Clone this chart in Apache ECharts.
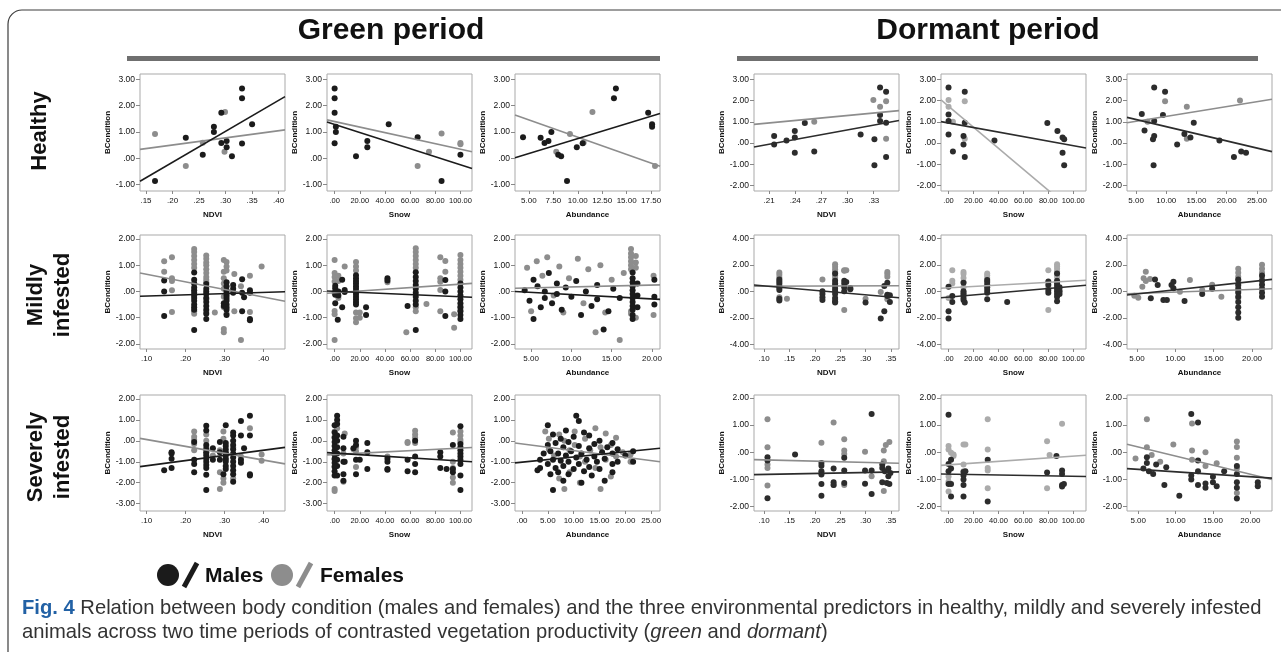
<!DOCTYPE html>
<html>
<head>
<meta charset="utf-8">
<script src="https://cdn.jsdelivr.net/npm/echarts@6/dist/echarts.min.js"></script>
<style>
  html, body { margin: 0; background: #fff; }
  #chart { width: 1281px; height: 652px; }
</style>
</head>
<body>
<div id="chart"></div>
<script>
  // ---- data: each row is [x, y1, y2, ...] (points sharing one x value) ----
  // Green period, healthy
  const gHealthyNdviMales = [[0.167, -0.86], [0.225, 0.78], [0.257, 0.14], [0.278, 1.2, 1.0], [0.292, 1.73, 0.58], [0.302, 0.66, 0.42], [0.312, 0.08], [0.331, 2.65, 2.28, 0.56], [0.35, 1.29]]
  const gHealthyNdviFemales = [[0.167, 0.92], [0.225, -0.29], [0.257, 0.59], [0.299, 1.76], [0.298, 0.25]]
  const gHealthySnowMales = [[0, 2.65, 2.28, 1.73, 0.57], [1, 1.2, 1.0], [17, 0.08], [26, 0.66, 0.42], [43, 1.29], [66, 0.8], [85, -0.86], [100, 0.14]]
  const gHealthySnowFemales = [[66, -0.29], [75, 0.25], [85, 0.94], [100, 0.58, 0.53]]
  const gHealthyAbunMales = [[4.4, 0.8], [6.2, 0.78], [6.6, 0.58], [7.0, 0.66], [7.3, 1.0], [8.0, 0.14], [8.3, 0.08], [8.9, -0.86], [9.9, 0.42], [10.5, 0.57], [13.7, 2.28], [13.9, 2.65], [17.2, 1.73], [17.6, 1.29, 1.2]]
  const gHealthyAbunFemales = [[7.8, 0.25], [9.2, 0.92], [10.6, 0.59], [11.5, 1.76], [17.9, -0.29]]

  // Dormant period, healthy
  const dHealthyNdviMales = [[0.2158, 0.34, -0.06], [0.23, 0.12], [0.2395, 0.57, 0.26, -0.45], [0.251, 0.95], [0.2618, -0.39], [0.315, 0.41], [0.3308, 0.18, -1.04], [0.3373, 2.61, 1.32, 1.04], [0.3442, 2.42, 0.96, -0.65]]
  const dHealthyNdviFemales = [[0.2618, 1.01], [0.3296, 2.03], [0.3373, 1.71], [0.3442, 1.97, 0.21]]
  const dHealthySnowMales = [[0, 2.61, 1.35, 1.04, 0.41], [3.5, -0.39], [12, 0.34, -0.06], [13, 2.42, 0.96, -0.65], [36.8, 0.12], [79.2, 0.95], [87.3, 0.57], [91.4, 0.26, -0.45], [92.7, 0.18, -1.04]]
  const dHealthySnowFemales = [[0, 2.03, 1.71], [3.5, 1.01], [13, 1.97, 0.21]]
  const dHealthyAbunMales = [[5.95, 1.37], [6.4, 0.59], [7.8, 0.18], [7.9, -1.04], [8.0, 2.61, 1.04, 0.34], [9.45, 1.32], [9.8, 2.42], [11.8, -0.06], [13.0, 0.43], [14.0, 0.27], [14.55, 0.96], [18.8, 0.12], [21.2, -0.65], [22.4, -0.39], [23.2, -0.45]]
  const dHealthyAbunFemales = [[6.9, 1.01], [9.8, 1.97], [13.4, 1.71, 0.21], [22.2, 2.0]]

  // Green period, mildly infested
  const gMildNdviMales = [[0.145, 0.42, 0.0, -0.93], [0.222, 0.72, 0.45, 0.3, 0.15, 0.05, -0.05, -0.15, -0.25, -0.35, -0.5, -0.6, -0.7, -1.47], [0.253, 0.28, 0.1, 0.0, -0.1, -0.25, -0.4, -0.55, -0.7, -0.85, -1.05], [0.298, -0.45, -0.55], [0.305, 0.35, 0.2, 0.05, -0.05, -0.15, -0.25, -0.35, -0.5, -0.6, -0.7, -0.9], [0.322, 0.25, 0.1, -0.05], [0.345, 0.47, -0.05, -0.75], [0.35, -0.22], [0.365, 0.05, -0.05, -1.05, -1.1]]
  const gMildNdviFemales = [[0.145, 1.15, 0.75], [0.165, 1.3, 0.5, 0.4, 0.05, -0.78], [0.222, 1.62, 1.5, 1.35, 1.2, 1.05, 0.9, -0.75, -0.85], [0.253, 1.37, 1.25, 1.1, 1.0, 0.85, 0.7, 0.55, 0.45, 0.35, -0.3, -0.78], [0.275, -0.8], [0.298, 1.2, 0.75, 0.5, 0.3, 0.1, -0.2, -0.6, -1.43, -1.55], [0.305, 1.12, 0.95, 0.8, -0.85], [0.325, 0.67, -0.75], [0.342, 0.2, -1.85], [0.365, 0.6, -0.78], [0.395, 0.95]]
  const gMildSnowMales = [[0.5, 0.22, 0.12, 0.0, -0.12, -0.45], [2.5, -1.08], [3, 0.0, -0.15], [6, 0.45, -0.6], [8, 0.06, -0.02], [17, 0.62, 0.5, 0.4, 0.3, 0.2, 0.1, 0.0, -0.1, -0.2, -0.3, -0.4, -0.5], [25, -0.6, -0.9], [42, 0.5, 0.42], [58, -0.55], [64.5, 0.73, 0.55, 0.4, 0.25, 0.1, -0.05, -0.2, -0.35, -0.5, -1.47], [88, 0.44, 0.0, -0.93], [100, 0.3, 0.15, 0.0, -0.15, -0.3, -0.45, -0.6, -0.75, -0.9, -1.05]]
  const gMildSnowFemales = [[0, 1.2, 0.7, 0.55, 0.38, -0.07, -0.74, -0.87, -1.85], [3, 0.6, 0.4, -0.25], [8, 0.95], [17, 1.12, 0.95, 0.8, -0.8, -1.02, -1.17], [20, -0.8, -1.0], [42, 0.35], [57, -1.55], [64.5, 1.65, 1.5, 1.35, 1.2, 1.05, 0.9, -0.6, -0.75], [73, -0.48], [84, 1.3, 0.5, 0.37, 0.06, -0.75], [88, 1.16, 0.75], [95, -0.87, -1.38], [100, 1.39, 1.2, 1.05, 0.9, 0.75, 0.6, 0.45, -0.55, -0.7]]
  const gMildAbunMales = [[4.2, 0.05], [4.8, -0.35], [5.3, 0.45, -1.05], [5.8, 0.2], [6.2, -0.6], [6.7, 0.0, -0.25], [7.2, 0.7], [7.6, -0.45], [8.2, 0.3, -0.1], [8.8, -0.7], [9.3, 0.15], [10.0, -0.2], [10.6, 0.4], [11.2, -0.9], [11.8, 0.0], [12.5, -0.55], [13.2, 0.25, -0.3], [14.0, -1.45], [14.6, -0.75], [15.2, 0.1], [16.0, -0.25], [17.6, 0.72, 0.5, 0.35, 0.2, 0.05, -0.1, -0.25, -0.4, -0.55, -0.7, -0.9, -1.05], [18.2, 0.3, -0.15, -0.6], [20.3, 0.45, -0.2, -0.5]]
  const gMildAbunFemales = [[4.5, 0.9], [5.0, -0.75], [5.7, 1.15], [6.4, 0.6], [7.0, 1.3], [7.8, -0.15], [8.5, 0.95], [9.0, -0.8], [9.7, 0.5], [10.8, 1.25], [11.5, -0.45], [12.1, 0.85], [13.0, -1.55], [13.6, 1.0], [14.2, -0.8], [15.0, 0.45], [16.0, -1.85], [16.5, 0.7], [17.4, 1.62, 1.45, 1.3, 1.15, 1.0, 0.85, -0.75, -0.85], [18.0, 1.35, 1.1, 0.9, -1.0], [20.2, 0.6, -0.9]]

  // Dormant period, mildly infested
  const dMildNdviMales = [[0.13, 0.9, 0.75, 0.6, 0.4, 0.25, 0.1, -0.55, -0.7], [0.215, 0.0, -0.2, -0.45, -0.65], [0.24, 1.35, 0.8, 0.6, 0.4, 0.2, 0.0, -0.2, -0.5, -0.75, -0.85], [0.258, 0.8, 0.6, 0.3, 0.0], [0.262, 0.7], [0.27, 0.25, 0.15], [0.3, -0.85], [0.33, -2.05], [0.337, 0.4, -1.5], [0.343, 0.65, -0.25, -0.35], [0.348, -0.8, -0.3]]
  const dMildNdviFemales = [[0.13, 1.43, 1.25, 1.05, -0.45], [0.145, -0.55], [0.215, 0.9], [0.24, 2.05, 1.85, 1.65, 1.45, 1.2, 1.0, -0.6], [0.258, 1.6, 1.55, -1.4], [0.262, 1.6], [0.3, -0.55], [0.33, -0.05], [0.343, 1.45, 1.3, 1.1, -0.6]]
  const dMildSnowMales = [[0, 0.35, -1.5, -2.05], [3, -0.35, -0.8], [12, 0.65, 0.0, -0.15, -0.3, -0.5, -0.65], [13, -0.85], [31, 0.85, 0.7, 0.5, 0.3, 0.1, -0.1, -0.6], [47, -0.8], [80, 0.75, 0.5, 0.1, -0.1], [87, 1.35, 0.8, 0.6, 0.4, 0.2, 0.0, -0.2, -0.4, -0.75], [89, 0.3, 0.0, -0.2]]
  const dMildSnowFemales = [[0, -0.5], [3, 1.6, 0.8, 0.6], [12, 1.45, 1.3, 1.0, 0.7, 0.3], [31, 1.35, 1.2, 1.0], [80, 1.6, 0.3, -1.4], [87, 2.05, 1.9, 1.7, 1.5, 1.3, 1.1], [89, 0.15]]
  const dMildAbunMales = [[6.8, -0.53], [7.35, 0.9], [7.7, 0.48], [8.44, -0.65], [8.9, -0.65], [9.5, 0.48], [9.75, 0.73, 0.23], [11.2, -0.73], [13.5, -0.2], [14.8, 0.2], [18.2, 0.9, 0.5, 0.2, -0.1, -0.4, -0.8, -1.2, -1.6, -2.0], [21.3, 1.2, 0.8, 0.5, 0.2, -0.1, -0.4]]
  const dMildAbunFemales = [[4.65, -0.33], [5.17, -0.48], [5.7, 0.35], [5.87, 0.98], [6.15, 1.48, 0.78], [6.7, 0.93], [10.6, -0.03], [11.9, 0.85], [13.5, 0.1], [14.8, 0.5], [16, -0.4], [18.2, 1.7, 1.4, 1.1, 0.8, 0.4, 0.0, -0.5], [21.3, 2.0, 1.7, 1.4, 1.0]]

  // Green period, severely infested
  const gSevNdviMales = [[0.145, -1.4], [0.164, -0.55, -0.6, -0.85, -1.3], [0.222, -0.05, -0.9, -1.1, -1.5], [0.253, 0.72, 0.5, -0.2, -0.4, -0.55, -0.7, -0.85, -1.0, -1.15, -1.3, -1.62, -2.35], [0.27, -0.35, -0.9], [0.288, -0.05, -0.55, -0.9], [0.297, -1.6], [0.303, 0.75, -0.1, -0.25, -0.4, -0.55, -0.7, -0.85, -1.0, -1.2, -1.35], [0.322, 0.4, 0.25, 0.0, -0.2, -0.4, -0.6, -0.8, -1.0, -1.2, -1.4, -1.6, -1.95], [0.342, 0.95, 0.25, -0.9, -1.05], [0.35, -0.35], [0.365, 1.2, 0.25, -1.6, -1.65]]
  const gSevNdviFemales = [[0.222, 0.45, 0.2, 0.05, -0.15, -0.45], [0.253, 0.3, 0.0, -0.3, -0.6], [0.27, -0.7], [0.288, -0.45, -1.5, -2.3], [0.297, 0.45, 0.1, -1.8, -2.0], [0.303, -0.6, -0.9], [0.322, -0.3, -1.8], [0.342, -0.75], [0.365, 0.6], [0.395, -0.65, -0.95]]
  const gSevSnowMales = [[0, 0.75, 0.4, 0.15, -0.05, -0.25, -0.45, -0.65, -0.85, -1.05, -1.25, -1.45, -1.65], [2, 1.2, 1.0, 0.8, 0.25, 0.0, -0.3, -0.6, -0.9, -1.2, -1.65], [7, 0.2, -0.35, -1.0, -1.6, -1.9], [8, -1.0], [15, -0.35], [17, 0.0, -0.2, -0.9, -1.6], [20, -0.9], [26, -0.1, -0.55, -1.35], [42, -0.85, -1.0, -1.35, -1.38], [58, -0.9, -1.45], [64, 0.0, -0.75, -1.1, -1.5], [84, -0.55, -0.75, -1.3], [89, -1.35], [94, -0.2, -1.35, -1.5], [100, 0.7, -0.15, -0.3, -0.45, -0.6, -0.75, -0.9, -1.1, -1.65, -2.35]]
  const gSevSnowFemales = [[0, 0.45, 0.2, -0.65, -0.9, -1.2, -2.3, -2.4], [2, 0.6], [7, -0.6, -1.95], [8, 0.35], [15, -0.4], [17, -0.3, -0.5, -1.25], [42, -0.75], [58, -0.05, -0.1], [64, 0.48, 0.3, 0.15, -0.1], [94, 0.4, -1.0, -1.3, -1.75, -2.0], [100, 0.45, 0.25, 0.05, -0.05]]
  const gSevAbunMales = [[3.0, -1.4], [3.5, -0.9, -1.3], [4.2, -0.6], [5.0, 0.75, -0.2, -1.1], [5.5, -0.5, -1.6], [6.0, 0.3, -0.9, -2.35], [6.5, -0.1, -1.3], [7.0, -0.6, -1.5], [7.5, 0.1, -0.95], [8.0, -0.3, -1.2, -1.9], [8.5, 0.5, -0.7], [9.0, -0.05, -1.0, -1.6], [9.5, -0.5], [10.0, 0.2, -1.35], [10.5, 1.2, -0.8], [11.0, 0.95, -0.25, -1.1], [11.5, -0.6, -2.0], [12.0, 0.4, -1.45], [12.5, -0.9], [13.0, 0.25, -0.35, -1.25], [13.5, -1.65], [14.0, -0.15, -0.75], [14.5, -1.0], [15.0, 0.0, -1.35], [15.5, -0.55], [16.0, -0.85, -1.9], [16.5, -0.3], [17.5, -0.1, -0.6, -1.1, -1.5], [18.5, -0.4, -1.0], [20.0, -0.7], [21.5, -0.5, -1.0]]
  const gSevAbunFemales = [[4.5, 0.45], [5.2, 0.1, -0.4], [6.2, -0.7], [7.2, 0.3, -1.8], [8.2, 0.0, -2.3], [9.2, -0.45, -1.5], [10.2, 0.45, -0.2], [11.2, -0.75, -2.0], [12.2, 0.1, -1.0], [13.2, -0.45], [14.2, 0.6, -1.3], [15.2, -0.3, -2.3], [16.2, 0.35, -0.9], [17.2, -0.2, -1.7], [18.2, 0.15, -0.75], [19.5, -0.55], [21.0, -0.65, -1.0]]

  // Dormant period, severely infested
  const dSevNdviMales = [[0.1066, -0.18, -0.3, -1.69], [0.161, -0.08], [0.213, -0.39, -0.49, -0.7, -0.82, -1.17, -1.6], [0.237, -0.6, -1.1, -1.2], [0.258, -0.2, -0.67, -1.13], [0.299, -0.67, -1.16], [0.312, 1.41, -0.67, -1.53], [0.333, -0.45, -0.58, -1.1], [0.338, -0.7], [0.342, -1.13], [0.345, -0.6, -0.88], [0.347, -1.17], [0.349, -0.76]]
  const dSevNdviFemales = [[0.1066, 1.22, 0.19, -0.45, -0.58, -1.22], [0.213, 0.35, -0.76], [0.237, 1.1, -1.2], [0.258, 0.48, 0.07, -0.06, -1.2], [0.299, 0.02], [0.312, -0.88], [0.336, 0.07, -0.33, -1.42], [0.34, 0.27], [0.347, 0.38]]
  const dSevSnowMales = [[0, 1.38, -0.43, -0.7, -1.17], [2, -0.27, -0.6, -1.17, -1.63], [12, -0.72, -0.85, -1.0, -1.2, -1.63], [13.5, -0.7], [31.4, -0.27, -1.81], [79, -0.74], [86.5, -0.14], [91, -0.67, -0.8, -1.2, -1.26], [92.5, -1.17]]
  const dSevSnowFemales = [[0, 0.23, 0.1, -0.89, -1.07, -1.44], [2, -0.02], [4, -0.14, -0.08], [12, 0.29, -0.45, -0.7], [13.5, 0.29], [31.4, 1.22, 0.1, -0.58, -0.67, -1.32], [79, 0.41, -1.32], [81, -0.1], [91, 1.05]]
  const dSevAbunMales = [[5.7, -0.6], [6.16, -0.18, -0.39], [6.43, -0.7], [7.0, -0.8], [7.4, -0.45], [8.5, -1.2], [8.75, -0.55], [10.5, -1.6], [12.1, 1.41, -0.85, -1.0], [13, 1.1, -0.3, -0.7, -1.2], [14, -1.15, -1.3], [15, -0.9, -1.1], [15.5, -1.25], [16.5, -0.7], [18.2, -0.5, -0.8, -1.1, -1.3, -1.7], [21, -1.1, -1.25]]
  const dSevAbunFemales = [[4.64, -0.23], [6.16, 1.22, 0.19], [6.8, -0.1], [7.94, -0.35], [9.7, 0.29], [12.2, 1.06, 0.07, -0.27], [14, -0.5, 0.0], [15.5, -0.4], [18.2, 0.4, 0.2, -0.2, -0.6, -1.5], [21, -1.2]]

  // fitted lines: BCondition at the left and right edge of each panel
  const fitMales = [[-0.87, 2.34], [1.38, -0.39], [0.02, 1.7], [-0.18, 1.06], [1.01, -0.23], [1.21, -0.4],
    [-0.18, -0.01], [0.02, -0.22], [0.0, -0.3], [0.48, -0.48], [-0.48, 0.46], [-0.28, 0.9],
    [-1.23, -0.31], [-0.56, -1.0], [-1.05, -0.35], [-0.82, -0.72], [-0.8, -0.89], [-0.6, -0.95]]
  const fitFemales = [[0.34, 1.08], [1.46, 0.25], [1.64, -0.3], [0.88, 1.53], [2.03, -3.71], [0.96, 2.06],
    [0.7, -0.37], [-0.07, 0.31], [0.12, 0.25], [0.38, 0.42], [0.23, 0.84], [-0.18, 0.2],
    [0.12, -1.1], [-0.67, -0.32], [-0.1, -1.0], [-0.27, -0.4], [-0.48, -0.11], [0.3, -1.0]]

  // axes
  const xRanges = [[0.1387, 0.412], [-6.05, 109.2], [3.58, 18.41], [0.1927, 0.359], [-6.05, 110.2], [3.5, 27.5],
    [0.083, 0.455], [-6.05, 109.2], [3.0, 21.0], [0.08, 0.366], [-6.05, 110.2], [3.7, 22.6],
    [0.083, 0.455], [-6.05, 109.2], [-1.35, 26.7], [0.08, 0.366], [-6.05, 110.2], [3.5, 22.9]]
  const ndviTicksHealthyG = [0.15, 0.2, 0.25, 0.3, 0.35, 0.4]
  const ndviTicksHealthyD = [0.21, 0.24, 0.27, 0.3, 0.33]
  const ndviTicksG = [0.1, 0.2, 0.3, 0.4]
  const ndviTicksD = [0.1, 0.15, 0.2, 0.25, 0.3, 0.35]
  const snowTicks = [0, 20, 40, 60, 80, 100]
  const abunTicksHealthyG = [5, 7.5, 10, 12.5, 15, 17.5]
  const abunTicks25 = [5, 10, 15, 20, 25]
  const abunTicks20 = [5, 10, 15, 20]
  const abunTicksSevG = [0, 5, 10, 15, 20, 25]
  const yRangesGreen = [[-1.24, 3.2], [-2.19, 2.15], [-3.35, 2.19]]
  const yRangesDormant = [[-2.25, 3.25], [-4.35, 4.25], [-2.16, 2.11]]
  const yTicksGreen = [[-1, 0, 1, 2, 3], [-2, -1, 0, 1, 2], [-3, -2, -1, 0, 1, 2]]
  const yTicksDormant = [[-2, -1, 0, 1, 2, 3], [-4, -2, 0, 2, 4], [-2, -1, 0, 1, 2]]
  const xNames = ['NDVI', 'Snow', 'Abundance']
  const rowNames = [['Healthy'], ['Mildly', 'infested'], ['Severely', 'infested']]

  const panelMales = [gHealthyNdviMales, gHealthySnowMales, gHealthyAbunMales, dHealthyNdviMales, dHealthySnowMales, dHealthyAbunMales,
    gMildNdviMales, gMildSnowMales, gMildAbunMales, dMildNdviMales, dMildSnowMales, dMildAbunMales,
    gSevNdviMales, gSevSnowMales, gSevAbunMales, dSevNdviMales, dSevSnowMales, dSevAbunMales]
  const panelFemales = [gHealthyNdviFemales, gHealthySnowFemales, gHealthyAbunFemales, dHealthyNdviFemales, dHealthySnowFemales, dHealthyAbunFemales,
    gMildNdviFemales, gMildSnowFemales, gMildAbunFemales, dMildNdviFemales, dMildSnowFemales, dMildAbunFemales,
    gSevNdviFemales, gSevSnowFemales, gSevAbunFemales, dSevNdviFemales, dSevSnowFemales, dSevAbunFemales]
  const panelXTicks = [ndviTicksHealthyG, snowTicks, abunTicksHealthyG, ndviTicksHealthyD, snowTicks, abunTicks25,
    ndviTicksG, snowTicks, abunTicks20, ndviTicksD, snowTicks, abunTicks20,
    ndviTicksG, snowTicks, abunTicksSevG, ndviTicksD, snowTicks, abunTicks20]

  // ---- layout ----
  const colLeft = [140, 327, 515, 754, 941, 1127]
  const rowTop = [74, 235, 395]
  const rowHeight = [117, 114, 116]
  const panelW = 145
  const FONT = "'Liberation Sans', Arial, sans-serif"

  function expand(rows) {
    const out = []
    rows.forEach((r) => r.slice(1).forEach((y) => out.push([r[0], y])))
    return out
  }

  function fmt(v) {
    let s = Math.abs(v).toFixed(2)
    if (s[0] === '0') s = s.slice(1)
    return (v < 0 ? '-' : '') + s
  }

  const grids = []
  const xAxes = []
  const yAxes = []
  const series = []

  for (let i = 0; i < 18; i++) {
    const row = Math.floor(i / 6)
    const col = i % 6
    const dormant = col >= 3
    const yr = dormant ? yRangesDormant[row] : yRangesGreen[row]
    const yt = dormant ? yTicksDormant[row] : yTicksGreen[row]
    const xr = xRanges[i]
    const maleColor = dormant ? '#2c2c2c' : '#1b1b1b'
    const femaleColor = dormant && col === 4 ? '#ababab' : '#8d8d8d'
    const isSnow = col % 3 === 1

    grids.push({
      left: colLeft[col], top: rowTop[row], width: panelW, height: rowHeight[row],
      show: true, borderColor: '#a9a9a9', borderWidth: 1,
    })
    xAxes.push({
      gridIndex: i, type: 'value', min: xr[0], max: xr[1],
      name: xNames[col % 3], nameLocation: 'middle', nameGap: 20,
      nameTextStyle: { fontSize: 8, fontWeight: 'bold', color: '#111', fontFamily: FONT },
      axisLine: { show: false, onZero: false }, splitLine: { show: false },
      axisTick: { show: true, length: 3, customValues: panelXTicks[i], lineStyle: { color: '#888' } },
      axisLabel: {
        customValues: panelXTicks[i], formatter: fmt, fontSize: isSnow ? 7.5 : 8, color: '#111', margin: 6,
        fontFamily: FONT, interval: 0, hideOverlap: false, showMinLabel: true, showMaxLabel: true,
      },
    })
    yAxes.push({
      gridIndex: i, type: 'value', min: yr[0], max: yr[1],
      name: 'BCondition', nameLocation: 'middle', nameGap: 27, nameRotate: 90,
      nameTextStyle: { fontSize: 8, fontWeight: 'bold', color: '#111', fontFamily: FONT },
      axisLine: { show: false, onZero: false }, splitLine: { show: false },
      axisTick: { show: true, length: 4, customValues: yt, lineStyle: { color: '#888' } },
      axisLabel: { customValues: yt, formatter: fmt, fontSize: 8.5, color: '#111', margin: 5, fontFamily: FONT, interval: 0, hideOverlap: false },
    })
    series.push(
      {
        type: 'scatter', xAxisIndex: i, yAxisIndex: i, data: expand(panelFemales[i]),
        symbolSize: 6, itemStyle: { color: femaleColor, opacity: 1 }, z: 2,
      },
      {
        type: 'scatter', xAxisIndex: i, yAxisIndex: i, data: expand(panelMales[i]),
        symbolSize: 6, itemStyle: { color: maleColor, opacity: 1 }, z: 3,
      },
      {
        type: 'line', xAxisIndex: i, yAxisIndex: i, symbol: 'none', clip: true, z: 4,
        data: [[xr[0], fitFemales[i][0]], [xr[1], fitFemales[i][1]]],
        lineStyle: { color: femaleColor, width: 1.6 },
      },
      {
        type: 'line', xAxisIndex: i, yAxisIndex: i, symbol: 'none', clip: true, z: 5,
        data: [[xr[0], fitMales[i][0]], [xr[1], fitMales[i][1]]],
        lineStyle: { color: maleColor, width: 1.6 },
      }
    )
  }

  function txt(x, y, text, font, extra, align) {
    const a = align || 'center'
    return Object.assign({
      type: 'text', x, y, silent: true,
      style: { text, font, fill: '#111', align: a, verticalAlign: 'middle', textAlign: a, textVerticalAlign: 'middle' },
    }, extra || {})
  }

  const graphics = [
    { type: 'rect', shape: { x: 8, y: 10, width: 1320, height: 720, r: 14 }, style: { fill: 'none', stroke: '#3c3c3c', lineWidth: 1.2 }, silent: true },
    txt(391, 31, 'Green period', 'bold 30px ' + FONT),
    txt(988, 31, 'Dormant period', 'bold 30px ' + FONT),
    { type: 'rect', shape: { x: 127, y: 56, width: 533, height: 5 }, style: { fill: '#6f6f6f' }, silent: true },
    { type: 'rect', shape: { x: 737, y: 56, width: 521, height: 5 }, style: { fill: '#6f6f6f' }, silent: true },
  ]

  const rowCenter = [131, 295, 457]
  rowNames.forEach((lines, r) => {
    if (lines.length === 1) {
      graphics.push(txt(40, rowCenter[r], lines[0], 'bold 22px ' + FONT, { rotation: Math.PI / 2 }))
    } else {
      graphics.push(txt(36, rowCenter[r], lines[0], 'bold 22px ' + FONT, { rotation: Math.PI / 2 }))
      graphics.push(txt(63, rowCenter[r], lines[1], 'bold 22px ' + FONT, { rotation: Math.PI / 2 }))
    }
  })

  // legend
  graphics.push(
    { type: 'circle', shape: { cx: 168, cy: 575, r: 11 }, style: { fill: '#1b1b1b' }, silent: true },
    { type: 'line', shape: { x1: 184, y1: 587, x2: 197, y2: 563 }, style: { stroke: '#1b1b1b', lineWidth: 5 }, silent: true },
    txt(205, 576, 'Males', 'bold 21px ' + FONT, {}, 'left'),
    { type: 'circle', shape: { cx: 282, cy: 575, r: 11 }, style: { fill: '#8d8d8d' }, silent: true },
    { type: 'line', shape: { x1: 298, y1: 587, x2: 311, y2: 563 }, style: { stroke: '#8d8d8d', lineWidth: 5 }, silent: true },
    txt(320, 576, 'Females', 'bold 21px ' + FONT, {}, 'left')
  )

  // caption
  const capSize = 20.2
  const capRich = {
    b: { fontWeight: 'bold', fill: '#2261a5', color: '#2261a5', fontSize: capSize, fontFamily: FONT },
    i: { fontStyle: 'italic', fill: '#333', color: '#333', fontSize: capSize, fontFamily: FONT },
  }
  const capLines = [
    '{b|Fig. 4} Relation between body condition (males and females) and the three environmental predictors in healthy, mildly and severely infested',
    'animals across two time periods of contrasted vegetation productivity ({i|green} and {i|dormant})',
  ]
  capLines.forEach((t, k) => {
    graphics.push({
      type: 'text', x: 22, y: 608 + k * 24, silent: true,
      style: {
        text: t, rich: capRich, fill: '#333', fontSize: capSize, fontFamily: FONT,
        align: 'left', verticalAlign: 'middle', textAlign: 'left', textVerticalAlign: 'middle',
      },
    })
  })

  const chart = echarts.init(document.getElementById('chart'))
  chart.setOption({
    animation: false,
    backgroundColor: '#fff',
    grid: grids,
    xAxis: xAxes,
    yAxis: yAxes,
    series,
    graphic: graphics,
  })
</script>
</body>
</html>
